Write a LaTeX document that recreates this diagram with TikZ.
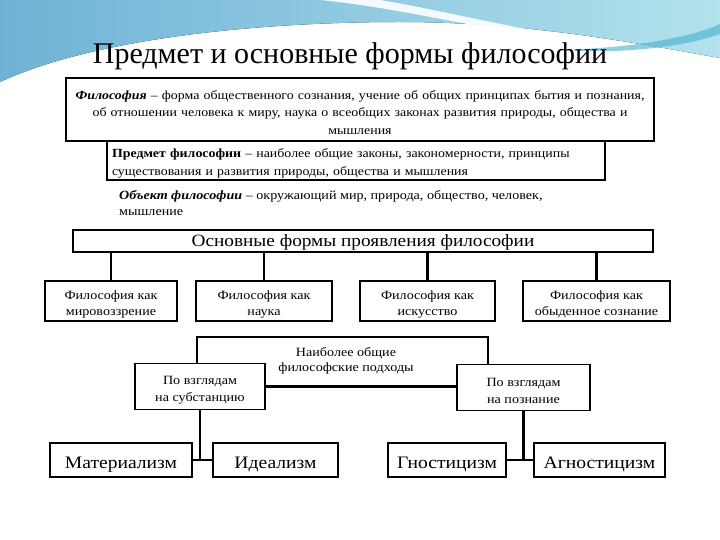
\documentclass[tikz,border=0pt]{standalone}
\usepackage{fontspec}
\setmainfont[FakeStretch=1.12]{Liberation Serif}
\newfontfamily\titlefont{Liberation Serif}
\usepackage{tikz}
\usetikzlibrary{positioning, calc}
\definecolor{skyleft}{RGB}{112,178,214}
\definecolor{skyright}{RGB}{178,226,236}
\definecolor{skydark}{RGB}{70,175,205}
\tikzset{
  box/.style={rectangle, draw=black, fill=white, line width=1.8pt,
    align=center, inner sep=2pt, font=\fontsize{12.6}{16}\selectfont,
    execute at begin node={\rule{0pt}{1.15em}}},
  formbox/.style={box, minimum height=40pt, inner sep=1pt,
    execute at begin node={}, text height=31pt},
  viewbox/.style={box, minimum height=46pt, font=\fontsize{12.6}{17}\selectfont,
    execute at begin node={}, text height=32pt},
  schoolbox/.style={box, minimum height=34pt, font=\fontsize{17.5}{19}\selectfont,
    execute at begin node={\rule{0pt}{1.05em}}},
  conn/.style={line width=2.4pt, color=black}
}

\begin{document}
\begin{tikzpicture}[x=1pt, y=-1pt]
  \useasboundingbox (0,0) rectangle (720,540);
  % background swoosh
  \fill[left color=skyleft, right color=skyright]
    (0,0) -- (720,0) -- (720,58) .. controls (620,40) and (520,22) .. (400,22)
    .. controls (250,22) and (90,40) .. (0,82) -- cycle;
  \fill[white, opacity=0.9] (320,0) .. controls (420,10) and (520,40) .. (620,46)
    .. controls (520,30) and (430,8) .. (380,0) -- cycle;
  \fill[skydark, opacity=0.6] (560,50) .. controls (630,48) and (690,38) .. (720,24)
    -- (720,34) .. controls (680,48) and (620,54) .. cycle;

  \node[font=\titlefont\fontsize{30}{32}\selectfont] (title) at (350,56) {Предмет и основные формы философии};

  \node[box, minimum width=588pt, minimum height=63pt, text width=582pt,
    font=\fontsize{12.4}{17.5}\selectfont] (phil) at (360,109.5)
    {\textbf{\textit{Философия}} – форма общественного сознания, учение об общих принципах бытия и познания,\\
     об отношении человека к миру, наука о всеобщих законах развития природы, общества и\\ мышления};
  \node[box, minimum width=498pt, minimum height=39pt, text width=488pt, align=left,
    font=\fontsize{12.4}{18}\selectfont] (subj) at (356,160.5)
    {\textbf{Предмет философии} – наиболее общие законы, закономерности, принципы\\
     существования и развития природы, общества и мышления};
  \node[align=left, anchor=north west, inner sep=0pt,
    font=\fontsize{12.6}{16}\selectfont] (obj) at (119,190)
    {\textbf{\textit{Объект философии}} – окружающий мир, природа, общество, человек,\\ мышление};

  \node[box, minimum width=580pt, minimum height=22pt, inner sep=1pt,
    execute at begin node={}, text height=15pt, text depth=3pt,
    font=\fontsize{17.2}{18}\selectfont] (forms) at (363,241)
    {Основные формы проявления философии};

  \node[formbox, minimum width=132pt] (f1) at (111,301) {Философия как\\ мировоззрение};
  \node[formbox, minimum width=136pt] (f2) at (264,301) {Философия как\\ наука};
  \node[formbox, minimum width=135pt] (f3) at (427.5,301) {Философия как\\ искусство};
  \node[formbox, minimum width=147pt] (f4) at (596.5,301) {Философия как\\ обыденное сознание};

  \foreach \f in {f1,f2,f3,f4}
    \draw[conn] (\f.north |- forms.south) -- (\f.north);

  \node[align=center, font=\fontsize{12.6}{15.5}\selectfont] (appr) at (346,361)
    {Наиболее общие\\ философские подходы};

  \node[viewbox, minimum width=130pt] (sub) at (200,386.5) {По взглядам\\ на субстанцию};
  \node[viewbox, minimum width=133pt] (cog) at (523.5,387.5) {По взглядам\\ на познание};

  \coordinate (tl) at (197,337);
  \coordinate (tr) at (488,337);
  \draw[conn] (sub.north -| tl) -- (tl) -- (tr) -- (cog.north -| tr);
  \draw[conn] (sub.east) -- (sub.east -| cog.west);

  \node[schoolbox, minimum width=142pt] (mat) at (121,460) {Материализм};
  \node[schoolbox, minimum width=125pt] (ide) at (275.5,460) {Идеализм};
  \node[schoolbox, minimum width=118pt] (gno) at (447,460) {Гностицизм};
  \node[schoolbox, minimum width=131pt] (agn) at (599.5,460) {Агностицизм};

  \draw[conn] (sub.south) -- (sub.south |- mat.east);
  \draw[conn] (mat.east) -- (ide.west);
  \draw[conn] (cog.south) -- (cog.south |- gno.east);
  \draw[conn] (gno.east) -- (agn.west);
\end{tikzpicture}
\end{document}
